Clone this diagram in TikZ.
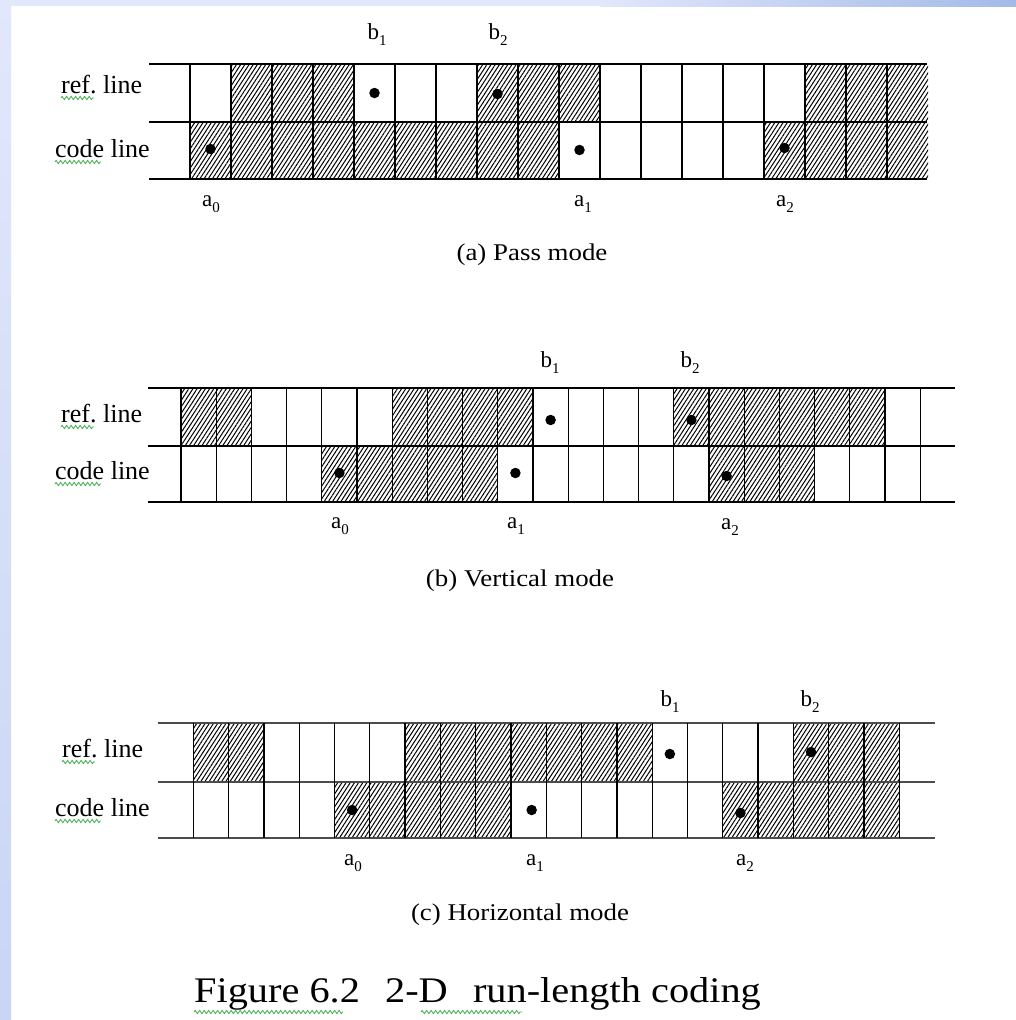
\documentclass[tikz,border=0pt]{standalone}
\usepackage{fontspec}
\setmainfont{Liberation Serif}
\newfontfamily\stretchfont[FakeStretch=1.12]{Liberation Serif}
\usetikzlibrary{patterns.meta,decorations.pathmorphing,calc}
\definecolor{bandA}{HTML}{E2E7FB}
\definecolor{bandB}{HTML}{A3BAE8}
\definecolor{bandC}{HTML}{C8D6F4}
\definecolor{squig}{HTML}{3FAE49}
\newcommand\subl[2]{#1\raisebox{-0.28em}{\fontsize{15pt}{15pt}\selectfont #2}}
\tikzset{
  gridline/.style={line width=1.3pt, black},
  hatch/.style={pattern={Lines[angle=57,distance=3.5pt,line width=1pt]}, pattern color=black},
  dot/.style={circle, fill=black, inner sep=0pt, minimum size=10.5pt},
  rowlbl/.style={anchor=base west, inner sep=0pt, font=\fontsize{26pt}{30pt}\selectfont},
  ptlbl/.style={anchor=base, inner sep=0pt, font=\fontsize{23pt}{27pt}\selectfont},
  capt/.style={anchor=base, inner sep=0pt, font=\stretchfont\fontsize{24pt}{28pt}\selectfont},
  squiggle/.style={squig, line width=0.8pt, decorate, decoration={zigzag, segment length=4.5pt, amplitude=1.6pt}},
}
\begin{document}
\begin{tikzpicture}[x=1pt,y=-1pt]
\useasboundingbox (0,0) rectangle (1016,1020);
% background frame
\fill[white] (0,0) rectangle (1016,1020);
\fill[bandA] (0,0) rectangle (600,6);
\shade[left color=bandA, right color=bandB] (600,0) rectangle (1016,6);
\shade[top color=bandA, bottom color=bandC] (0,0) rectangle (11,1020);

% ================= Panel (a) =================
\foreach \i in {1,2,3,7,8,9,15,16,17}
  \fill[hatch] ({190+\i*41},64) rectangle ({190+(\i+1)*41},122);
\foreach \i in {0,1,2,3,4,5,6,7,8,14,15,16,17}
  \fill[hatch] ({190+\i*41},122) rectangle ({190+(\i+1)*41},179);
\foreach \yy in {64,122,179}
  \draw[gridline] (149,\yy) -- (927,\yy);
\foreach \i in {0,...,17}
  \draw[gridline] ({190+\i*41},64) -- ({190+\i*41},179);
\node[dot] (Ab1) at ({190+4.5*41},93) {};
\node[dot] (Ab2) at ({190+7.5*41},94) {};
\node[dot] (Aa0) at ({190+0.5*41},149) {};
\node[dot] (Aa1) at ({190+9.5*41},150) {};
\node[dot] (Aa2) at ({190+14.5*41},148) {};
\node[ptlbl] (ALb1) at (377,39) {\subl{b}{1}};
\node[ptlbl] (ALb2) at (498,39) {\subl{b}{2}};
\node[ptlbl] (ALa0) at (211,206) {\subl{a}{0}};
\node[ptlbl] (ALa1) at (583,206) {\subl{a}{1}};
\node[ptlbl] (ALa2) at (785,206) {\subl{a}{2}};
\node[rowlbl] (Aref) at (61,93) {ref.\ line};
\node[rowlbl] (Acode) at (55,157) {code line};
\draw[squiggle] ($(Aref.base west)+(0,5)$) -- ++(33,0);
\draw[squiggle] ($(Acode.base west)+(0,5)$) -- ++(46,0);
\node[capt] (Acap) at (532,260) {(a) Pass mode};

% ================= Panel (b) =================
\foreach \i in {0,1,6,7,8,9,14,15,16,17,18,19}
  \fill[hatch] ({181+\i*35.2},388) rectangle ({181+(\i+1)*35.2},446);
\foreach \i in {4,5,6,7,8,15,16,17}
  \fill[hatch] ({181+\i*35.2},446) rectangle ({181+(\i+1)*35.2},502);
\foreach \yy in {388,446,502}
  \draw[gridline] (148,\yy) -- (955,\yy);
\foreach \i in {0,...,21}
  \draw[gridline] ({181+\i*35.2},388) -- ({181+\i*35.2},502);
\node[dot] (Bb1) at ({181+10.5*35.2},420) {};
\node[dot] (Bb2) at ({181+14.5*35.2},420) {};
\node[dot] (Ba0) at ({181+4.5*35.2},473) {};
\node[dot] (Ba1) at ({181+9.5*35.2},473) {};
\node[dot] (Ba2) at ({181+15.5*35.2},476) {};
\node[ptlbl] (BLb1) at (550,367) {\subl{b}{1}};
\node[ptlbl] (BLb2) at (690,367) {\subl{b}{2}};
\node[ptlbl] (BLa0) at (340,528) {\subl{a}{0}};
\node[ptlbl] (BLa1) at (516,528) {\subl{a}{1}};
\node[ptlbl] (BLa2) at (730,529) {\subl{a}{2}};
\node[rowlbl] (Bref) at (61,422) {ref.\ line};
\node[rowlbl] (Bcode) at (55,479) {code line};
\draw[squiggle] ($(Bref.base west)+(0,5)$) -- ++(33,0);
\draw[squiggle] ($(Bcode.base west)+(0,5)$) -- ++(46,0);
\node[capt] (Bcap) at (520,586) {(b) Vertical mode};

% ================= Panel (c) =================
\foreach \i in {0,1,6,7,8,9,10,11,12,17,18,19}
  \fill[hatch] ({193.3+\i*35.3},723) rectangle ({193.3+(\i+1)*35.3},782);
\foreach \i in {4,5,6,7,8,15,16,17,18,19}
  \fill[hatch] ({193.3+\i*35.3},782) rectangle ({193.3+(\i+1)*35.3},838);
\foreach \yy in {723,782,838}
  \draw[line width=2pt, black!70] (158,\yy) -- (935,\yy);
\foreach \i in {0,...,20}
  \draw[gridline] ({193.3+\i*35.3},723) -- ({193.3+\i*35.3},838);
\node[dot] (Cb1) at ({193.3+13.5*35.3},754) {};
\node[dot] (Cb2) at ({193.3+17.5*35.3},752) {};
\node[dot] (Ca0) at ({193.3+4.5*35.3},810) {};
\node[dot] (Ca1) at ({193.3+9.5*35.3+3},810) {};
\node[dot] (Ca2) at ({193.3+15.5*35.3},813) {};
\node[ptlbl] (CLb1) at (670,706) {\subl{b}{1}};
\node[ptlbl] (CLb2) at (810,706) {\subl{b}{2}};
\node[ptlbl] (CLa0) at (353,865) {\subl{a}{0}};
\node[ptlbl] (CLa1) at (535,865) {\subl{a}{1}};
\node[ptlbl] (CLa2) at (745,865) {\subl{a}{2}};
\node[rowlbl] (Cref) at (62,757) {ref.\ line};
\node[rowlbl] (Ccode) at (55,816) {code line};
\draw[squiggle] ($(Cref.base west)+(0,5)$) -- ++(33,0);
\draw[squiggle] ($(Ccode.base west)+(0,5)$) -- ++(46,0);
\node[capt] (Ccap) at (520,920) {(c) Horizontal mode};

% ================= Title =================
\node[anchor=base west, inner sep=0pt, font=\stretchfont\fontsize{36pt}{40pt}\selectfont] (title) at (194,1002) {Figure 6.2\hspace{0.7em}2-D\hspace{0.7em}run-length coding};
\draw[squiggle] (194,1012) -- (343,1012);
\draw[squiggle] (421,1012) -- (522,1012);
\end{tikzpicture}
\end{document}
